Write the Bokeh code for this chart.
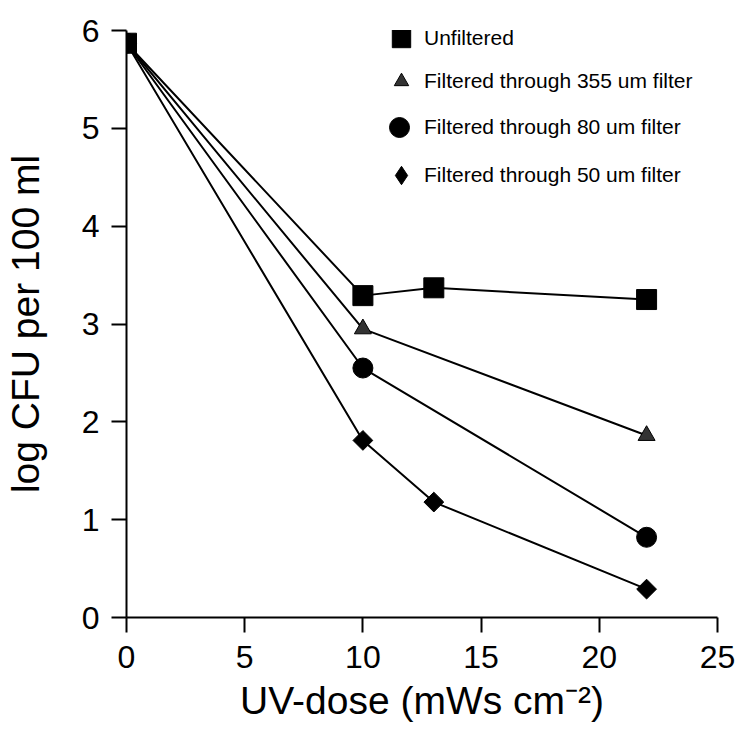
from bokeh.plotting import figure
from bokeh.models import Range1d, Legend, LegendItem, FixedTicker
from bokeh.embed import file_html
from bokeh.resources import INLINE
import numpy as np

# data
dose_unf = [0, 10, 13, 22]
log_unf = [5.87, 3.29, 3.37, 3.25]
dose_355 = [0, 10, 22]
log_355 = [5.87, 2.95, 1.86]
dose_80 = [0, 10, 22]
log_80 = [5.87, 2.55, 0.82]
dose_50 = [0, 10, 13, 22]
log_50 = [5.87, 1.81, 1.18, 0.29]

labels = ["Unfiltered", "Filtered through 355 um filter",
          "Filtered through 80 um filter", "Filtered through 50 um filter"]
x_ticks = [0, 5, 10, 15, 20, 25]
y_ticks = [0, 1, 2, 3, 4, 5, 6]

FONT = "Liberation Sans"

W, H = 740, 736
FL, FR, FT, FB = 125, 717, 30, 617   # frame edges in page pixels

p = figure(width=W, height=H, output_backend="svg", toolbar_location=None,
           x_range=Range1d(0, 25), y_range=Range1d(0, 6),
           min_border_left=FL, min_border_right=W - FR, min_border_top=FT,
           min_border_bottom=H - FB)
p.outline_line_color = None
p.grid.visible = False
p.background_fill_color = "white"
p.border_fill_color = "white"

for ax in (p.xaxis[0], p.yaxis[0]):
    ax.axis_line_width = 2
    ax.axis_line_color = "black"
    ax.major_tick_line_width = 2
    ax.major_tick_line_color = "black"
    ax.major_tick_out = 15
    ax.major_tick_in = 0
    ax.minor_tick_line_color = None
    ax.major_label_text_font = FONT
    ax.major_label_text_font_size = "32px"
    ax.major_label_text_color = "black"
    ax.axis_label_text_font = FONT
    ax.axis_label_text_font_size = "39px"
    ax.axis_label_text_font_style = "normal"
    ax.axis_label_text_color = "black"

p.xaxis[0].ticker = FixedTicker(ticks=x_ticks)
p.yaxis[0].ticker = FixedTicker(ticks=y_ticks)
p.xaxis[0].axis_label = "UV-dose (mWs cm\u207b\u00b2)"
p.yaxis[0].axis_label = "log CFU per 100 ml"
p.xaxis[0].major_label_standoff = 13
p.yaxis[0].major_label_standoff = 12
p.xaxis[0].axis_label_standoff = 8
p.yaxis[0].axis_label_standoff = 32

lw = 2
p.line(dose_50, log_50, line_color="black", line_width=lw)
p.line(dose_80, log_80, line_color="black", line_width=lw)
p.line(dose_355, log_355, line_color="black", line_width=lw)
p.line(dose_unf, log_unf, line_color="black", line_width=lw)

r50 = p.scatter(dose_50, log_50, marker="square", angle=np.pi / 4,
                size=14, fill_color="black", line_color="black")
r80 = p.scatter(dose_80, log_80, marker="circle", size=20,
                fill_color="black", line_color="black")
r355 = p.scatter(dose_355, log_355, marker="triangle", size=17,
                 fill_color="#333333", line_color="black")
runf = p.scatter(dose_unf, log_unf, marker="square", size=20,
                 fill_color="black", line_color="black")
# legend-only stand-in for the diamond symbol (not drawn in the plot)
r50_key = p.scatter(dose_50, log_50, marker="diamond", size=22,
                    fill_color="black", line_color="black", visible=False)


def add_legend(label, renderer, cx, cy, g, text_x):
    # one legend entry; g is the glyph box (marker drawn at 0.4*g)
    h = g // 2
    lg = Legend(items=[LegendItem(label=label, renderers=[renderer])],
                location=(int(cx - h - FL), int(FB - (cy + h))))
    lg.label_text_font = FONT
    lg.label_text_font_size = "21px"
    lg.label_text_color = "black"
    lg.glyph_width = int(g)
    lg.glyph_height = int(g)
    lg.label_height = 24
    lg.padding = 0
    lg.margin = 0
    lg.spacing = 0
    lg.border_line_color = None
    lg.background_fill_alpha = 0
    lg.inactive_fill_alpha = 0
    lg.label_standoff = max(0, int(text_x - (cx + h)))
    p.add_layout(lg)


add_legend(labels[0], runf, 400, 38, 46, 423)
add_legend(labels[1], r355, 400, 81, 36, 423)
add_legend(labels[2], r80, 398, 127, 50, 423)
add_legend(labels[3], r50_key, 400, 175, 46, 423)

open("out.html", "w").write(file_html(p, INLINE))
